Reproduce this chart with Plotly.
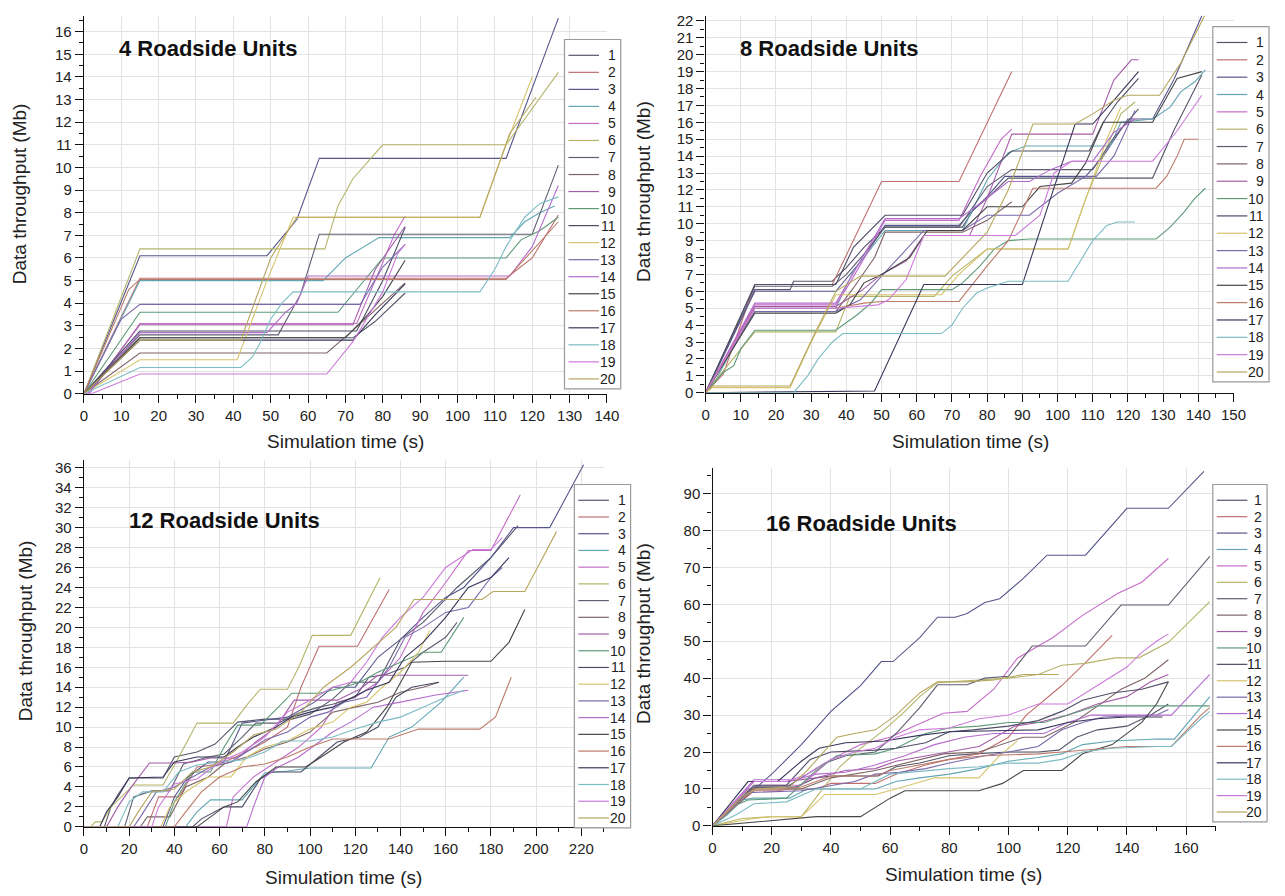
import plotly.graph_objects as go

# ---------------------------------------------------------------------------
# Cumulative data throughput (Mb) per vehicle vs. simulation time (s)
# ---------------------------------------------------------------------------
vehicle_ids = [str(i) for i in range(1, 21)]

# ---- 4 roadside units ------------------------------------------------------
rsu4_time = [
    [0, 2, 15, 72, 78, 86],
    [0, 15, 113, 120, 127],
    [0, 15, 49, 57, 63, 113, 127],
    [0, 15, 64, 70, 79, 114, 118, 122, 126],
    [0, 1.5, 15, 73, 79, 83, 86],
    [0, 15, 64.5, 68, 72, 80, 113, 120, 127],
    [0, 15, 52, 58, 63, 120, 127],
    [0, 15, 65, 72, 80, 86],
    [0, 1, 15, 72, 78, 86],
    [0, 15, 68, 75, 80, 113, 117, 122, 127],
    [0, 15, 73, 80, 86],
    [0, 15, 41, 49, 56, 106, 113, 120],
    [0, 10, 15, 74, 80, 86],
    [0, 1, 15, 49, 54, 57, 60, 114, 120, 127],
    [0, 15, 70, 76, 80, 86],
    [0, 12, 15, 113, 121, 127],
    [0, 15, 72, 78, 86],
    [0, 15, 42, 45, 47, 50, 53, 56, 106, 110, 113, 118, 122, 127],
    [0, 2, 15, 65, 72, 80, 84, 86],
    [0, 15, 42, 50, 57, 106, 114, 121],
]
rsu4_mb = [
    [0, 0.3, 2.47, 2.47, 3.2, 4.45],
    [0, 5.1, 5.1, 6.0, 7.9],
    [0, 6.1, 6.1, 7.7, 10.4, 10.4, 16.6],
    [0, 5.0, 5.0, 6.0, 6.9, 6.9, 7.6, 8.0, 8.3],
    [0, 0, 3.1, 3.1, 5.4, 7.0, 7.85],
    [0, 6.4, 6.4, 8.3, 9.5, 11.0, 11.0, 12.6, 14.2],
    [0, 2.6, 2.6, 4.4, 7.05, 7.05, 10.1],
    [0, 1.8, 1.8, 2.8, 4.0, 4.9],
    [0, 0, 3.05, 3.05, 5.5, 7.4],
    [0, 3.6, 3.6, 5.0, 6.0, 6.0, 6.8, 7.2, 7.8],
    [0, 2.77, 2.77, 5.0, 7.35],
    [0, 1.5, 1.5, 5.0, 7.8, 7.8, 11.0, 14.0],
    [0, 3.3, 3.95, 3.95, 5.6, 6.6],
    [0, 0, 2.7, 2.7, 3.6, 4.0, 5.2, 5.2, 6.5, 9.2],
    [0, 2.47, 2.47, 3.5, 4.3, 5.9],
    [0, 4.6, 5.05, 5.05, 6.5, 7.6],
    [0, 2.37, 2.37, 3.5, 4.85],
    [0, 1.16, 1.16, 1.6, 2.2, 3.3, 4.0, 4.5, 4.5, 5.5, 6.5, 7.8, 8.4, 8.7],
    [0, 0, 0.87, 0.87, 2.3, 4.5, 6.2, 6.6],
    [0, 2.37, 2.37, 6.0, 7.8, 7.8, 11.5, 13.1],
]

# ---- 8 roadside units ------------------------------------------------------
rsu8_time = [
    [0, 14, 24, 25, 36, 40, 45, 51, 73, 76, 80, 86, 127, 133, 141],
    [0, 5, 14, 36, 50, 72, 87],
    [0, 14, 37, 41, 45, 51, 72, 75, 80, 85, 108, 113, 120, 127, 133, 141],
    [0, 3, 14, 37, 42, 51, 73, 80, 86, 91, 115, 118, 127, 132, 135, 139, 142],
    [0, 14, 37, 41, 46, 51, 72, 78, 84, 87],
    [0, 14, 37, 41, 65, 70, 80, 103, 108, 113, 118, 122],
    [0, 14, 36, 40, 45, 51, 72, 80, 87, 110, 116, 123],
    [0, 14, 37, 42, 48, 51, 73, 80, 87],
    [0, 14, 37, 44, 50, 57, 62, 75, 80, 87, 110, 116, 121, 123],
    [0, 5, 8, 10, 14, 37, 43, 47, 50, 70, 73, 78, 82, 86, 92, 128, 132, 136, 139, 142],
    [0, 14, 37, 42, 51, 73, 80, 87, 109, 113, 117, 123],
    [0, 2, 24, 30, 37, 67, 72, 80, 103, 108, 114, 118],
    [0, 14, 37, 44, 50, 62, 73, 80, 92, 100, 108, 111, 116, 122],
    [0, 14, 37, 46, 51, 72, 78, 86, 92, 98, 104, 110, 116, 122],
    [0, 14, 37, 41, 45, 50, 58, 63, 73, 76, 80, 90, 95, 104, 108, 113, 127, 134, 141],
    [0, 14, 37, 45, 50, 72, 80, 86, 93, 128, 131, 134, 136, 140],
    [0, 48, 62, 90, 98, 105, 110, 116, 123],
    [0, 25, 29, 32, 36, 39, 67, 70, 73, 77, 80, 86, 103, 107, 110, 114, 117, 122],
    [0, 14, 37, 49, 52, 57, 62, 88, 95, 99, 104, 127, 134, 141],
    [0, 2, 24, 31, 37, 44, 68, 73, 80, 86, 93, 105, 110, 116, 120, 129, 135, 142],
]
rsu8_mb = [
    [0, 6.1, 6.1, 6.6, 6.6, 7.4, 8.6, 9.8, 9.8, 10.8, 11.5, 12.7, 12.7, 15.5, 18.8],
    [0, 1.1, 6.4, 6.4, 12.5, 12.5, 19.0],
    [0, 6.0, 6.0, 7.0, 8.0, 9.9, 9.9, 10.6, 11.6, 12.8, 12.8, 14.0, 16.2, 16.2, 18.5, 22.3],
    [0, 0.8, 5.0, 5.0, 7.2, 9.6, 9.6, 12.6, 14.2, 14.6, 14.6, 16.0, 16.2, 16.9, 17.8, 18.4, 19.1],
    [0, 5.2, 5.2, 6.5, 8.3, 10.2, 10.2, 12.8, 15.0, 15.6],
    [0, 3.6, 3.6, 5.7, 5.7, 6.9, 8.5, 8.5, 11.5, 14.0, 16.5, 17.2],
    [0, 6.3, 6.3, 7.0, 8.2, 9.8, 9.8, 12.2, 13.2, 13.2, 15.1, 16.8],
    [0, 4.8, 4.8, 6.2, 8.0, 9.5, 9.5, 10.2, 11.3],
    [0, 5.1, 5.1, 6.0, 7.0, 7.8, 9.3, 9.3, 11.5, 15.3, 15.3, 18.5, 19.7, 19.7],
    [0, 1.2, 1.6, 2.6, 3.7, 3.7, 4.6, 5.3, 6.1, 6.1, 6.5, 7.5, 8.5, 9.0, 9.1, 9.1, 9.8, 10.7, 11.5, 12.1],
    [0, 6.4, 6.4, 8.6, 10.5, 10.5, 13.0, 14.3, 14.3, 16.0, 17.2, 18.6],
    [0, 0.3, 0.3, 3.0, 5.8, 5.8, 7.0, 8.5, 8.5, 11.5, 15.0, 16.9],
    [0, 4.8, 4.8, 5.5, 6.9, 9.6, 9.6, 10.5, 10.5, 11.8, 12.8, 12.8, 14.0, 16.7],
    [0, 5.3, 5.3, 8.5, 10.3, 10.3, 11.2, 12.5, 12.5, 13.2, 13.7, 13.7, 15.4, 16.2],
    [0, 4.7, 4.7, 5.2, 6.5, 7.0, 8.0, 9.6, 9.6, 10.2, 11.0, 11.0, 12.2, 12.4, 13.6, 16.0, 16.0, 18.6, 19.0],
    [0, 5.0, 5.0, 5.3, 5.4, 5.4, 7.5, 9.0, 12.1, 12.1, 12.8, 14.0, 15.0, 15.0],
    [0, 0.1, 6.4, 6.4, 11.5, 15.9, 15.9, 17.3, 19.0],
    [0, 0, 1.0, 2.0, 3.0, 3.5, 3.5, 4.0, 5.0, 5.9, 6.2, 6.6, 6.6, 8.0, 9.0, 9.9, 10.1, 10.1],
    [0, 5.0, 5.0, 5.2, 5.5, 6.7, 9.3, 9.3, 10.5, 13.0, 13.7, 13.7, 15.5, 17.6],
    [0, 0.4, 0.4, 3.5, 6.0, 6.9, 6.9, 8.0, 9.5, 12.0, 15.9, 15.9, 16.5, 17.3, 17.6, 17.6, 19.5, 22.4],
]

# ---- 12 roadside units -----------------------------------------------------
rsu12_time = [
    [0, 9, 12, 15, 20, 35, 40, 50, 58, 68, 80, 92, 100, 110, 118, 130, 140, 150, 165, 180, 192],
    [0, 28, 33, 42, 50, 60, 70, 80, 90, 96, 104, 121, 135],
    [0, 35, 40, 46, 55, 62, 70, 80, 90, 102, 110, 120, 130, 140, 150, 160, 168, 180, 190, 206, 221],
    [0, 45, 50, 56, 70, 80, 90, 100, 127, 135, 145, 158, 168],
    [0, 63, 66, 75, 85, 95, 105, 112, 120, 130, 140, 150, 160, 170, 180, 193],
    [0, 3, 5, 8, 12, 22, 35, 42, 50, 66, 72, 78, 90, 95, 101, 118, 131],
    [0, 18, 22, 30, 38, 44, 55, 62, 70, 76, 86, 95, 104, 110, 120, 126, 134, 142, 150, 160, 165],
    [0, 25, 28, 38, 45, 55, 62, 72, 80, 90, 100, 110, 120, 130, 140, 150, 157],
    [0, 10, 15, 21, 29, 40, 48, 56, 68, 76, 85, 93, 112, 122, 130, 170],
    [0, 36, 40, 48, 56, 62, 68, 78, 86, 92, 104, 115, 122, 130, 140, 150, 158, 168],
    [0, 48, 52, 62, 70, 78, 83, 96, 104, 112, 122, 130, 138, 145, 152, 157],
    [0, 34, 38, 45, 55, 65, 72, 80, 90, 100, 110, 118, 125, 132, 140, 148, 153],
    [0, 22, 25, 32, 40, 48, 56, 65, 72, 80, 90, 100, 108, 115, 125, 135, 142, 150, 160, 170, 180, 185],
    [0, 72, 75, 80, 86, 95, 104, 110, 118, 128, 140, 155, 170],
    [0, 50, 56, 62, 68, 76, 85, 98, 105, 115, 125, 134, 145, 160, 180, 188, 195],
    [0, 40, 45, 52, 60, 70, 80, 90, 100, 110, 135, 148, 175, 182, 189],
    [0, 7, 10, 15, 20, 35, 40, 50, 62, 68, 75, 85, 92, 100, 110, 125, 135, 142, 150, 160, 170, 180, 188],
    [0, 15, 20, 26, 35, 42, 50, 60, 70, 80, 88, 100, 110, 120, 130, 140, 150, 160, 168],
    [0, 30, 33, 40, 50, 60, 70, 80, 90, 100, 110, 118, 125, 132, 140, 150, 160, 172, 180, 185],
    [0, 20, 24, 30, 40, 48, 56, 66, 75, 85, 96, 106, 118, 128, 138, 146, 176, 181, 195, 209],
]
rsu12_mb = [
    [0, 0, 2, 3.2, 4.9, 4.9, 7, 7.5, 8.3, 10.5, 10.8, 10.8, 11.3, 12.8, 14.5, 14.5, 18.8, 20.5, 24, 27, 30.2],
    [0, 0, 3, 3, 6, 6.3, 7.3, 8.5, 10, 14, 18.1, 18.1, 23.8],
    [0, 0, 3, 5, 6.5, 6.5, 10.4, 10.7, 11, 12.5, 14, 14, 17, 18.8, 21, 23, 24, 27, 30, 30, 36.3],
    [0, 0, 1.5, 2.7, 2.7, 5.4, 5.6, 5.9, 5.9, 9, 10, 12.5, 15.0],
    [0, 0, 3, 5, 6.5, 8, 10, 12.5, 13, 14.5, 17, 21.5, 24.5, 27.7, 27.7, 33.3],
    [0, 0, 0.5, 0.5, 2, 4.2, 4.2, 7, 10.4, 10.4, 12.2, 13.8, 13.8, 16, 19.2, 19.2, 25.0],
    [0, 0, 3, 3.6, 3.6, 6.3, 7, 7.3, 9, 10.4, 10.4, 11.4, 12, 12.3, 13, 15, 15.3, 16, 17.5, 19, 20.5],
    [0, 0, 1, 1, 4, 5, 6.3, 7, 7.8, 8.5, 9.5, 11.5, 12.0, 12.5, 13.5, 14.0, 14.5],
    [0, 0, 2, 4, 6.4, 6.4, 6.5, 6.9, 6.9, 8.5, 10, 12.7, 12.7, 13.8, 15.2, 15.2],
    [0, 0, 2.5, 5.5, 5.5, 8, 10.2, 10.2, 12, 13.4, 13.4, 14, 14.5, 15.5, 16.5, 17.5, 17.5, 21],
    [0, 0, 0.8, 2, 2, 4.8, 5.5, 5.5, 7, 8.5, 9, 10, 13, 14, 14.3, 14.5],
    [0, 0, 2, 3.5, 5, 5, 7, 8, 8.6, 9.8, 10.5, 12, 12.5, 14, 15.5, 17.5, 19.7],
    [0, 0, 1, 3.5, 4, 5, 6, 6.5, 7.5, 8.7, 9.5, 11, 11.5, 12.5, 13, 16, 19, 20, 21.5, 22, 25, 26],
    [0, 0, 2, 5, 6, 7, 8.5, 9.5, 10.5, 12, 12.5, 13.2, 13.7],
    [0, 0, 1, 2, 2.5, 4.5, 6, 6, 7, 8.5, 9.5, 12, 16.5, 16.6, 16.6, 18.5, 21.8],
    [0, 0, 1.5, 3.5, 5, 6, 6.3, 7, 8, 8.8, 8.8, 9.8, 9.8, 11, 15.0],
    [0, 0, 1.5, 3, 4.9, 5, 6.5, 7, 7, 8, 9, 10, 11, 11.5, 12, 13.7, 14.5, 17, 18.5, 21, 24, 25, 27],
    [0, 0, 2.5, 3.5, 3.5, 5.5, 6.2, 6.5, 6.7, 7.5, 8.6, 8.6, 9, 9.8, 10.5, 11, 12, 13, 13.7],
    [0, 0, 2, 4.3, 4.8, 6.5, 7.5, 9, 11.5, 12.7, 14, 14.5, 16.5, 19, 21, 23, 26, 27.8, 27.8, 29],
    [0, 0, 1.5, 3.5, 3.8, 5.5, 6, 7.5, 9.2, 9.8, 11.5, 14, 16, 18, 20, 22.8, 22.8, 23.6, 23.6, 29.6],
]

# ---- 16 roadside units -----------------------------------------------------
rsu16_time = [
    [0, 6, 14, 28, 35, 40, 56, 62, 70, 80, 88, 100, 110, 117, 123, 130, 140, 148, 154],
    [0, 14, 22, 26, 35, 40, 55, 62, 72, 80, 90, 100, 106, 118, 127, 135],
    [0, 20, 30, 40, 45, 50, 57, 61, 70, 76, 82, 86, 92, 97, 105, 113, 126, 133, 140, 154, 166],
    [0, 5, 10, 14, 26, 32, 55, 62, 70, 80, 90, 100, 110, 118, 125, 135, 150, 156, 168],
    [0, 10, 15, 30, 40, 50, 60, 68, 78, 86, 95, 103, 115, 125, 137, 145, 154],
    [0, 10, 20, 30, 43, 50, 58, 65, 70, 76, 90, 100, 110, 118, 126, 136, 144, 154, 168],
    [0, 10, 14, 25, 30, 38, 45, 55, 62, 70, 76, 86, 92, 100, 108, 126, 138, 154, 168],
    [0, 12, 30, 40, 55, 65, 78, 90, 105, 112, 122, 132, 138, 146, 154],
    [0, 14, 25, 35, 45, 55, 62, 72, 80, 90, 102, 110, 120, 130, 140, 148, 154],
    [0, 6, 12, 25, 35, 42, 55, 62, 72, 80, 90, 100, 112, 120, 130, 168],
    [0, 14, 25, 33, 40, 55, 62, 72, 80, 88, 100, 110, 118, 125, 135, 145, 154],
    [0, 14, 20, 30, 38, 55, 62, 75, 90, 97, 103],
    [0, 12, 30, 40, 48, 55, 63, 72, 80, 92, 100, 110, 118, 125, 132, 150, 154],
    [0, 14, 28, 35, 45, 55, 65, 75, 85, 95, 112, 120, 128, 155, 168],
    [0, 20, 35, 50, 55, 60, 65, 90, 98, 105, 118, 125, 135, 145, 150, 154],
    [0, 14, 25, 30, 40, 55, 60, 70, 80, 92, 110, 118, 125, 140, 155, 165, 168],
    [0, 12, 22, 30, 36, 45, 58, 70, 80, 95, 110, 120, 130, 140, 152],
    [0, 8, 14, 25, 35, 50, 60, 72, 80, 90, 100, 110, 118, 125, 135, 150, 155, 165, 168],
    [0, 14, 25, 32, 40, 48, 55, 62, 70, 80, 90, 100, 110, 120, 130, 140, 145, 150, 154],
    [0, 10, 15, 26, 32, 42, 48, 55, 62, 70, 76, 86, 95, 105, 117],
]
rsu16_mb = [
    [0, 5, 10.5, 10.5, 13, 13.5, 13.5, 16, 17, 19, 19.5, 20, 20, 20.5, 24, 26, 27, 30, 33],
    [0, 9.5, 9.5, 10, 10, 11.5, 11.5, 14, 16.5, 18, 19.5, 24, 30, 38, 45, 51.6],
    [0, 14, 22, 31, 34.5, 38, 44.5, 44.5, 51, 56.5, 56.5, 57.5, 60.5, 61.5, 67, 73.3, 73.3, 79.5, 86, 86, 96],
    [0, 3, 7, 7.5, 7.5, 10, 10, 12, 13, 14, 15.5, 17.5, 18.5, 19.5, 22, 23, 23.5, 23.5, 35],
    [0, 8, 11, 11, 18, 22, 24, 27, 30.5, 31, 37, 45.4, 51, 57, 63, 66, 72.4],
    [0, 2, 2.5, 2.5, 16, 21, 26, 31, 35, 38.8, 39.5, 40, 41, 43.5, 44, 45.5, 45.5, 49.7, 60.7],
    [0, 7, 10.5, 10.5, 13, 17, 19, 20, 25, 32, 38.2, 38.2, 40, 40.5, 48.7, 48.7, 59.8, 59.8, 73],
    [0, 10, 10, 13, 15, 17, 19.5, 20, 24, 24, 28, 33.5, 37, 40, 45],
    [0, 12, 12, 13, 15, 15.5, 17.5, 19, 20, 21.5, 27, 28, 30, 33, 35, 39, 41],
    [0, 5, 7, 7.5, 15, 19, 19.5, 21, 25, 26.5, 27, 28, 28, 30, 32.5, 32.5],
    [0, 11, 11, 18, 20, 20.5, 21, 22.5, 25.5, 26, 27, 28.5, 31, 34, 36, 37, 39],
    [0, 2, 2.5, 2.5, 8.5, 8.5, 10, 13, 13, 19, 23],
    [0, 9, 9.5, 11, 12, 14, 14.5, 15.5, 17, 19, 20, 21.5, 26, 28, 29.5, 30, 31.5],
    [0, 12.5, 12.5, 14, 14.5, 16.5, 19, 22, 24, 25, 25, 28, 30, 30, 41],
    [0, 1.5, 2.5, 2.5, 5, 7.5, 9.5, 9.5, 11.5, 15, 15, 19.5, 22, 28, 33, 39],
    [0, 10, 10, 10.5, 13.5, 13.5, 15, 16.5, 18, 19, 19.5, 20, 20.5, 21.5, 21.5, 30, 32],
    [0, 12, 12, 17.5, 21, 22.5, 23, 24.5, 25.5, 25.8, 26, 28, 29, 29.5, 29.5],
    [0, 3, 6, 6.5, 10, 10, 14, 15, 15.5, 16, 17, 17, 18, 20, 21, 21.5, 21.5, 29, 31],
    [0, 12, 12, 14, 18, 20, 21, 24, 26, 26.5, 29, 30, 33, 33, 38, 43, 47, 50, 52],
    [0, 8, 10, 10.5, 15, 24, 25, 26, 30, 36, 39, 39, 39.5, 41, 41],
]

series_colors = [
    "#55556a", "#bf6f6f", "#56568e", "#62a6b4", "#c46cc8",
    "#b4b46a", "#5e5e72", "#7e6464", "#a45ca8", "#5e9a78",
    "#4c4c66", "#d6c46a", "#7a68aa", "#b46ccc", "#464646",
    "#bc7a6a", "#36365a", "#7cbcc4", "#cc7ada", "#b6a65e",
]

# ---------------------------------------------------------------------------
W, H = 1285, 896
FONT = "Arial, 'Liberation Sans', sans-serif"


def fx(p):
    return p / W


def fy(p):
    return 1 - p / H


panels = [
    dict(time=rsu4_time, mb=rsu4_mb, title="4 Roadside Units",
         xpx=(81, 611), ypx=(395, 12), xr=(0, 140), yr=(0, 16.7),
         xd=10, yd=1, title_xy=(207, 45),
         ytitle_xy=(16, 192), xtitle_xy=(346, 443),
         legend_box=(568, 36, 625, 390)),
    dict(time=rsu8_time, mb=rsu8_mb, title="8 Roadside Units",
         xpx=(711, 1246), ypx=(394, 12), xr=(0, 150), yr=(0, 22.3),
         xd=10, yd=1, title_xy=(836, 45),
         ytitle_xy=(648, 190), xtitle_xy=(979, 443),
         legend_box=(1225, 23, 1282, 383)),
    dict(time=rsu12_time, mb=rsu12_mb, title="12 Roadside Units",
         xpx=(81, 608), ypx=(834, 462), xr=(0, 230), yr=(0, 36.8),
         xd=20, yd=2, title_xy=(223, 524),
         ytitle_xy=(22, 635), xtitle_xy=(344, 885),
         legend_box=(578, 487, 635, 835)),
    dict(time=rsu16_time, mb=rsu16_mb, title="16 Roadside Units",
         xpx=(718, 1228), ypx=(833, 470), xr=(0, 170), yr=(0, 97),
         xd=20, yd=10, title_xy=(869, 527),
         ytitle_xy=(648, 638), xtitle_xy=(972, 882),
         legend_box=(1225, 487, 1280, 829)),
]

fig = go.Figure()
layout = dict(
    width=W, height=H,
    margin=dict(l=0, r=0, t=0, b=0),
    paper_bgcolor="white", plot_bgcolor="white",
    showlegend=False,
    font=dict(family=FONT, color="#222222"),
)
annotations = []
shapes = []

for k, p in enumerate(panels):
    sfx = "" if k == 0 else str(k + 1)
    xa, ya = "x" + sfx, "y" + sfx

    for i, name in enumerate(vehicle_ids):
        fig.add_trace(go.Scatter(
            x=p["time"][i], y=p["mb"][i], name=name, mode="lines",
            line=dict(color=series_colors[i], width=1.1),
            xaxis=xa, yaxis=ya, hoverinfo="skip",
        ))

    common = dict(
        showline=True, linecolor="#111111", linewidth=1.4,
        ticks="outside", ticklen=8, tickwidth=1.3, tickcolor="#111111",
        showgrid=True, gridcolor="#e3e3e3", gridwidth=1,
        zeroline=False, mirror=False,
        tickfont=dict(size=15, family=FONT, color="#222222"),
    )
    layout["xaxis" + sfx] = dict(
        common, domain=[fx(p["xpx"][0]), fx(p["xpx"][1])],
        range=list(p["xr"]), dtick=p["xd"], tick0=0,
        anchor=ya,
        minor=dict(ticks="outside", ticklen=4, tickcolor="#111111",
                   dtick=p["xd"] / 2, tick0=0, showgrid=False),
    )
    layout["yaxis" + sfx] = dict(
        common, domain=[fy(p["ypx"][0]), fy(p["ypx"][1])],
        range=list(p["yr"]), dtick=p["yd"], tick0=0,
        anchor=xa,
        minor=dict(ticks="outside", ticklen=4, tickcolor="#111111",
                   dtick=p["yd"] / 2, tick0=0, showgrid=False),
    )

    # panel heading and axis titles
    annotations.append(dict(
        text="<b>%s</b>" % p["title"], x=fx(p["title_xy"][0]), y=fy(p["title_xy"][1]),
        xref="paper", yref="paper", showarrow=False,
        font=dict(size=22, family=FONT, color="#111111"),
        xanchor="center", yanchor="middle"))
    annotations.append(dict(
        text="Data throughput (Mb)", x=fx(p["ytitle_xy"][0]), y=fy(p["ytitle_xy"][1]),
        xref="paper", yref="paper", showarrow=False, textangle=-90,
        font=dict(size=19, family=FONT, color="#222222"),
        xanchor="center", yanchor="middle"))
    annotations.append(dict(
        text="Simulation time (s)", x=fx(p["xtitle_xy"][0]), y=fy(p["xtitle_xy"][1]),
        xref="paper", yref="paper", showarrow=False,
        font=dict(size=19, family=FONT, color="#222222"),
        xanchor="center", yanchor="middle"))

    # boxed legend listing the 20 vehicles
    x0, y0, x1, y1 = p["legend_box"]
    shapes.append(dict(type="rect", xref="paper", yref="paper",
                       x0=fx(x0), x1=fx(x1), y0=fy(y1), y1=fy(y0),
                       line=dict(color="#9a9a9a", width=1.2),
                       fillcolor="white", layer="above"))
    step = (y1 - y0 - 26) / 19.0
    for i, name in enumerate(vehicle_ids):
        yy = y0 + 16 + i * step
        shapes.append(dict(type="line", xref="paper", yref="paper",
                           x0=fx(x0 + 4), x1=fx(x0 + 35), y0=fy(yy), y1=fy(yy),
                           line=dict(color=series_colors[i], width=1.2),
                           layer="above"))
        annotations.append(dict(
            text=name, x=fx(x1 - 3), y=fy(yy), xref="paper", yref="paper",
            showarrow=False, xanchor="right", yanchor="middle",
            font=dict(size=14, family=FONT, color="#222222")))

layout["annotations"] = annotations
layout["shapes"] = shapes
fig.update_layout(**layout)

fig.write_html("out.html")
